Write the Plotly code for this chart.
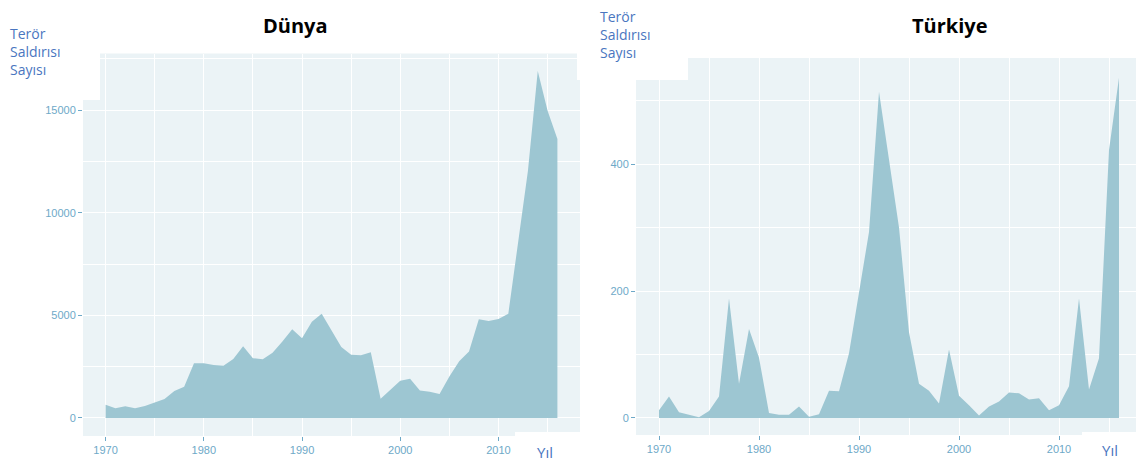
import plotly.graph_objects as go

W, H = 1144, 461

years = [1970, 1971, 1972, 1973, 1974, 1975, 1976, 1977, 1978, 1979,
         1980, 1981, 1982, 1983, 1984, 1985, 1986, 1987, 1988, 1989,
         1990, 1991, 1992, 1994, 1995, 1996, 1997, 1998, 1999,
         2000, 2001, 2002, 2003, 2004, 2005, 2006, 2007, 2008, 2009,
         2010, 2011, 2012, 2013, 2014, 2015, 2016]

dunya = [651, 471, 568, 473, 581, 740, 923, 1319, 1526, 2662,
         2662, 2586, 2544, 2870, 3495, 2915, 2860, 3183, 3721, 4324,
         3887, 4683, 5071, 3456, 3081, 3058, 3197, 934, 1395,
         1814, 1906, 1333, 1278, 1166, 2017, 2758, 3242, 4805, 4721,
         4826, 5076, 8522, 12036, 16903, 14965, 13587]

turkiye = [12, 34, 9, 5, 1, 11, 34, 188, 54, 140,
           95, 8, 5, 5, 18, 2, 6, 43, 42, 102,
           195, 293, 514, 300, 135, 54, 43, 23, 108,
           35, 20, 4, 18, 26, 40, 39, 29, 31, 12,
           20, 50, 188, 45, 94, 422, 536]

x_ticks = [1970, 1980, 1990, 2000, 2010]
y_ticks_dunya = [0, 5000, 10000, 15000]
y_ticks_turkiye = [0, 200, 400]

titles = ["Dünya", "Türkiye"]
y_label = "Terör<br>Saldırısı<br>Sayısı"
x_label = "Yıl"

FILL = "#9DC6D2"
BG = "#EBF3F6"
TICK = "#6EA9C8"
LABEL = "#4A76C0"

OFF = 8  # page body margin


def px(x):
    return (x - OFF) / W


def py(y):
    return 1 - (y - OFF) / H


fig = go.Figure()
fig.add_trace(go.Scatter(x=years, y=dunya, fill="tozeroy", mode="lines",
                         line=dict(width=0, color=FILL), fillcolor=FILL,
                         xaxis="x", yaxis="y", showlegend=False, hoverinfo="x+y"))
fig.add_trace(go.Scatter(x=years, y=turkiye, fill="tozeroy", mode="lines",
                         line=dict(width=0, color=FILL), fillcolor=FILL,
                         xaxis="x2", yaxis="y2", showlegend=False, hoverinfo="x+y"))

tickfont = dict(family="Liberation Sans", size=11, color=TICK)
xcommon = dict(range=[1967.7, 2018.3], tickvals=x_ticks,
               ticktext=[str(v) for v in x_ticks], showgrid=True,
               gridcolor="white", gridwidth=1.3, zeroline=False, showline=False,
               ticks="outside", ticklen=4, tickcolor=TICK, tickwidth=1,
               tickfont=tickfont,
               minor=dict(dtick=10, tick0=1975, showgrid=True, gridcolor="white",
                          gridwidth=0.6, ticks=""), fixedrange=True)
ycommon = dict(showgrid=True, gridcolor="white", gridwidth=1.3, zeroline=False,
               showline=False, ticks="outside", ticklen=4, tickcolor=TICK,
               tickwidth=1, tickfont=tickfont, fixedrange=True)

fig.update_layout(
    width=W, height=H, margin=dict(l=0, r=0, t=0, b=0),
    paper_bgcolor="white", plot_bgcolor=BG,
    xaxis=dict(domain=[px(83), px(580)], anchor="y", **xcommon),
    yaxis=dict(domain=[py(436), py(53.5)], anchor="x", range=[-877, 17752],
               tickvals=y_ticks_dunya, ticktext=[str(v) for v in y_ticks_dunya],
               minor=dict(dtick=5000, tick0=2500, showgrid=True, gridcolor="white",
                          gridwidth=0.6, ticks=""), **ycommon),
    xaxis2=dict(domain=[px(636), px(1142)], anchor="y2", **xcommon),
    yaxis2=dict(domain=[py(435), py(58)], anchor="x2", range=[-26.8, 567],
                tickvals=y_ticks_turkiye, ticktext=[str(v) for v in y_ticks_turkiye],
                minor=dict(dtick=200, tick0=100, showgrid=True, gridcolor="white",
                           gridwidth=0.6, ticks=""), **ycommon),
)

# white patches from the pasted labels
patches = [(80, 40, 100, 100), (577, 40, 582, 80), (515, 432, 582, 461),
           (632, 40, 688, 80), (1082, 432, 1144, 461)]
for x0, y0, x1, y1 in patches:
    fig.add_shape(type="rect", xref="paper", yref="paper",
                  x0=px(x0), x1=px(x1), y0=py(y1), y1=py(y0),
                  fillcolor="white", line=dict(width=0), layer="above")

for t, cx in zip(titles, [295, 950]):
    fig.add_annotation(text="<b>" + t + "</b>", x=px(cx), y=py(25), xref="paper",
                       yref="paper", showarrow=False, xanchor="center", yanchor="middle",
                       font=dict(family="Open Sans", size=20, color="black"))

for lx, ly in [(8, 52), (598, 35)]:
    fig.add_annotation(text=y_label, x=px(lx), y=py(ly), xref="paper", yref="paper",
                       xanchor="left", yanchor="middle", align="left", showarrow=False,
                       font=dict(family="Open Sans", size=14, color=LABEL))

for lx, ly in [(545, 452), (1110, 450)]:
    fig.add_annotation(text=x_label, x=px(lx), y=py(ly), xref="paper", yref="paper",
                       xanchor="center", yanchor="middle", showarrow=False,
                       font=dict(family="Open Sans", size=15, color=LABEL))

fig.write_html("out.html")
